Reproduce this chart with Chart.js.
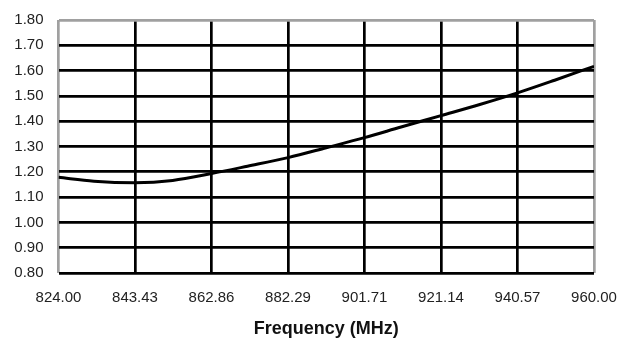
<!DOCTYPE html>
<html>
<head>
<meta charset="utf-8">
<script src="https://cdn.jsdelivr.net/npm/chart.js@4/dist/chart.umd.min.js"></script>
<style>
  html, body { margin: 0; padding: 0; background: #ffffff; }
  #wrap { width: 624px; height: 342px; }
</style>
</head>
<body>
<div id="wrap"><canvas id="c" width="624" height="342"></canvas></div>
<script>
const freqTicks = [824.00, 843.43, 862.86, 882.29, 901.71, 921.14, 940.57, 960.00];
const yTicks = [0.80, 0.90, 1.00, 1.10, 1.20, 1.30, 1.40, 1.50, 1.60, 1.70, 1.80];
const freq = [824, 833, 843.43, 853, 862.86, 872, 882.29, 892, 901.71, 911, 921.14, 931, 940.57, 950, 960];
const vswr = [1.178, 1.163, 1.157, 1.166, 1.193, 1.222, 1.256, 1.295, 1.335, 1.377, 1.422, 1.466, 1.512, 1.562, 1.617];
const xTitle = 'Frequency (MHz)';

const GRAY = '#a0a0a0';
const BLACK = '#000000';
const FONT = "'Liberation Sans', Arial, sans-serif";

new Chart(document.getElementById('c'), {
  type: 'line',
  data: {
    datasets: [{
      data: freq.map((f, i) => ({ x: f, y: vswr[i] })),
      borderColor: BLACK,
      borderWidth: 3,
      pointRadius: 0,
      fill: false,
      cubicInterpolationMode: 'monotone'
    }]
  },
  options: {
    responsive: false,
    animation: false,
    devicePixelRatio: 1,
    layout: { padding: { left: 0, top: 20, right: 30, bottom: 0 } },
    plugins: { legend: { display: false }, tooltip: { enabled: false } },
    scales: {
      x: {
        type: 'linear',
        min: freqTicks[0],
        max: freqTicks[freqTicks.length - 1],
        afterBuildTicks: s => { s.ticks = freqTicks.map(v => ({ value: v })); },
        afterFit: s => { s.height = 69; s.paddingLeft = 0; s.paddingRight = 0; },
        border: { display: false },
        grid: {
          drawTicks: false,
          lineWidth: 2.7,
          color: c => (c.tick && (c.tick.value === 824 || c.tick.value === 960)) ? GRAY : BLACK
        },
        ticks: {
          padding: 16,
          maxRotation: 0,
          autoSkip: false,
          color: '#222',
          font: { family: FONT, size: 15 },
          callback: v => Number(v).toFixed(2)
        },
        title: {
          display: true,
          text: xTitle,
          color: '#111',
          font: { family: FONT, size: 18, weight: 'bold' },
          padding: { top: 0, bottom: 2 }
        }
      },
      y: {
        type: 'linear',
        min: yTicks[0],
        max: yTicks[yTicks.length - 1],
        afterBuildTicks: s => { s.ticks = yTicks.map(v => ({ value: v })); },
        afterFit: s => { s.width = 58.5; s.paddingTop = 0; s.paddingBottom = 0; },
        border: { display: false },
        grid: {
          drawTicks: false,
          lineWidth: 2.7,
          color: c => (c.tick && Math.abs(c.tick.value - 1.8) < 1e-6) ? GRAY : BLACK
        },
        ticks: {
          padding: 15,
          color: '#222',
          font: { family: FONT, size: 15 },
          callback: v => Number(v).toFixed(2)
        }
      }
    }
  }
});
</script>
</body>
</html>
